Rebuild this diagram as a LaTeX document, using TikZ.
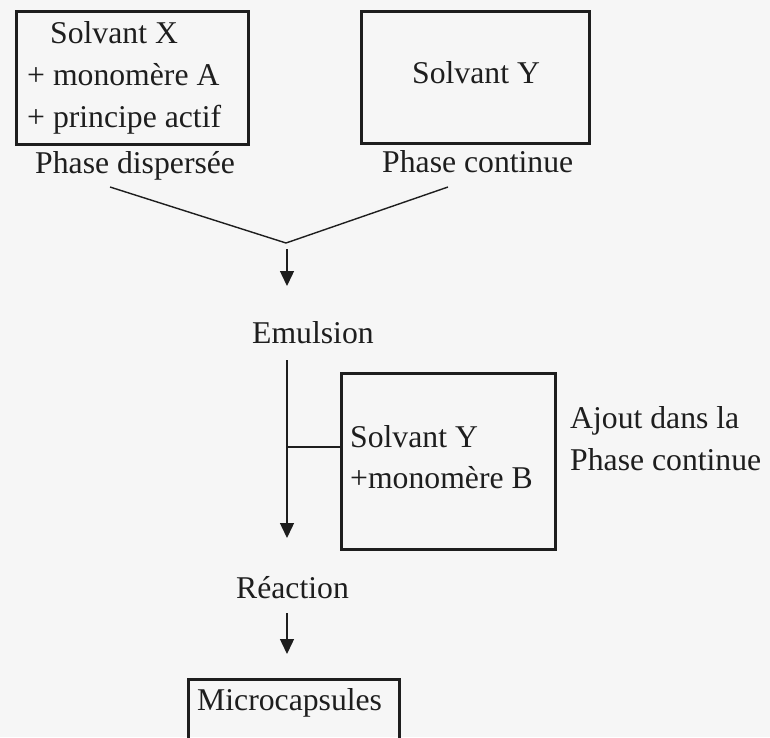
\documentclass[tikz,border=0pt]{standalone}
\usepackage{fontspec}
\setmainfont{Liberation Serif}
\usetikzlibrary{arrows.meta}
\definecolor{ink}{HTML}{1E1E1E}
\definecolor{paper}{HTML}{F6F6F6}
\begin{document}
\begin{tikzpicture}[x=1pt,y=-1pt,
  lbl/.style={anchor=base west,inner sep=0pt,text=ink,font=\fontsize{31.7}{38}\selectfont},
  boxframe/.style={draw=ink,line width=2.6pt,inner sep=0pt,anchor=north west},
  conn/.style={draw=ink,line width=1.4pt},
  arr/.style={conn,-{Triangle[width=14pt,length=15pt]}}]
\useasboundingbox (0,0) rectangle (770,737);
\clip (0,0) rectangle (770,737);
\fill[paper] (0,0) rectangle (770,737);
% boxes
\node[boxframe,minimum width=232pt,minimum height=133pt] (b1) at (15,10) {};
\node[boxframe,minimum width=228pt,minimum height=132pt] (b2) at (360,10) {};
\node[boxframe,minimum width=214pt,minimum height=176pt] (b3) at (340,372) {};
\node[boxframe,minimum width=211pt,minimum height=120pt] (b4) at (187,678) {};
% texts
\node[lbl] (t1) at (50,43) {Solvant X};
\node[lbl] (t2) at (27,85) {+ monomère A};
\node[lbl] (t3) at (27,127) {+ principe actif};
\node[lbl] (pd) at (35,173) {Phase dispersée};
\node[lbl] (t4) at (412,83) {Solvant Y};
\node[lbl] (pc) at (382,172) {Phase continue};
\node[lbl] (em) at (252,343) {Emulsion};
\node[lbl] (t5) at (350,447) {Solvant Y};
\node[lbl] (t6) at (350,488) {+monomère B};
\node[lbl] (aj1) at (570,428) {Ajout dans la};
\node[lbl] (aj2) at (570,470) {Phase continue};
\node[lbl] (re) at (236,598) {Réaction};
\node[lbl] (mc) at (197,710) {Microcapsules};
% connector points
\coordinate (vl) at (110,187);
\coordinate (vm) at (286,243);
\coordinate (vr) at (448,187);
\coordinate (a1s) at (287,249);
\coordinate (a1e) at (287,286);
\coordinate (l2s) at (287,360);
\coordinate (l2e) at (287,538);
\coordinate (jn) at (287,447);
\coordinate (a3s) at (287,613);
\coordinate (a3e) at (287,654);
% connectors
\draw[conn] (vl) -- (vm) -- (vr);
\draw[arr] (a1s) -- (a1e);
\draw[arr] (l2s) -- (l2e);
\draw[conn] (jn) -- (jn -| b3.west);
\draw[arr] (a3s) -- (a3e);
\end{tikzpicture}
\end{document}
